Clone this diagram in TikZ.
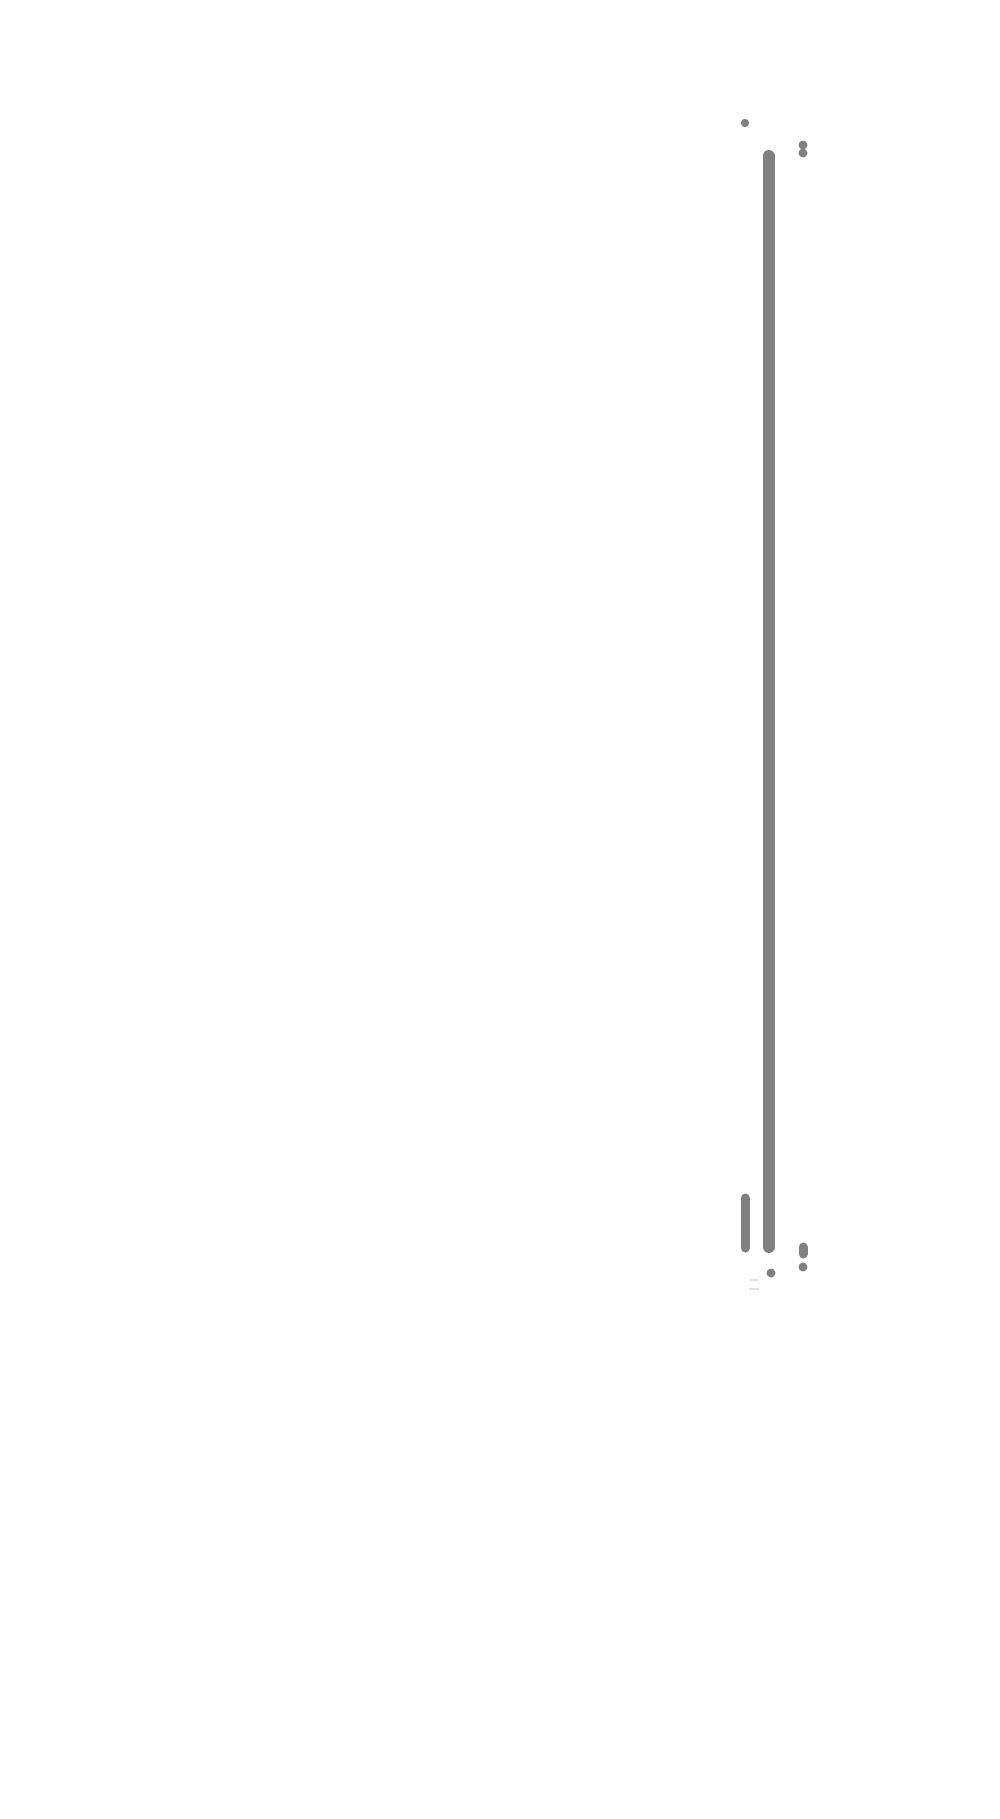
\documentclass[tikz,border=0pt]{standalone}
\usepackage{tikz}
\usetikzlibrary{positioning,calc}
\definecolor{bargray}{RGB}{128,128,128}
\definecolor{faintgray}{RGB}{225,225,225}
\tikzset{
	bar/.style = {draw=bargray, line cap=round},
	pip/.style = {fill=bargray, draw=none},
	faint/.style = {draw=faintgray, line width=0.03cm}
}

\begin{document}
\begin{tikzpicture}[x=0.02cm,y=-0.02cm]
		\useasboundingbox (0,0) rectangle (1000,1819);
		% long bar and short bar
		\draw [bar, line width=0.24cm] (768.5,156) -- (768.5,1247);
		\draw [bar, line width=0.18cm] (745,1198) -- (745,1248);
		% dots
		\fill [pip] (745,123) circle (4.2);
		\fill [pip] (771,1273) circle (4.5);
		\fill [pip] (803,145) circle (4.5);
		\fill [pip] (803,153) circle (4.5);
		\draw [bar, line width=0.18cm] (803,1247) -- (803,1254);
		\fill [pip] (803,1267) circle (4.5);
		% faint marks
		\draw [faint] (750,1280) -- (759,1280);
		\draw [faint] (749,1289) -- (759,1289);
	\end{tikzpicture}
\end{document}
